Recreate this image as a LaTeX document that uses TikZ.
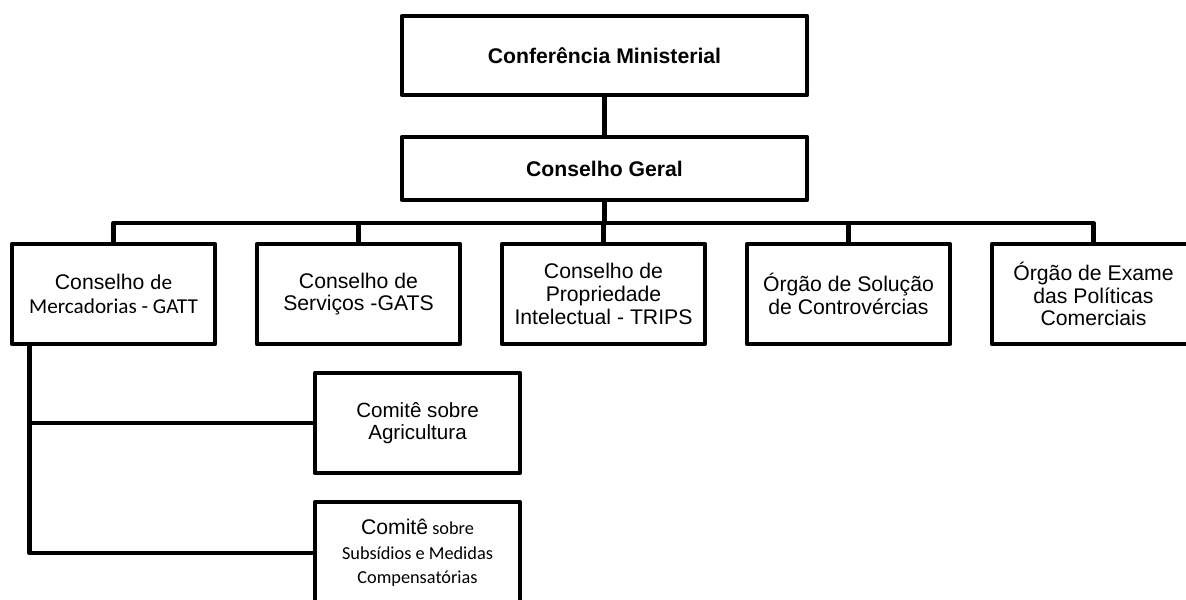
\documentclass[tikz,border=0pt]{standalone}
\usepackage{fontspec}
\setmainfont{Liberation Sans}
\newfontfamily\calfont{Carlito}
\usetikzlibrary{calc}
\begin{document}
\begin{tikzpicture}[x=0.5pt,y=-0.5pt,
  line width=2.4pt, line join=round,
  box/.style={draw, line width=2.4pt, minimum width=101.5pt, minimum height=50pt,
    align=center, inner sep=0pt, font=\fontsize{10.6}{11.3}\selectfont},
  topbox/.style={box, minimum width=202.5pt, font=\fontsize{10.6}{12.5}\selectfont\bfseries}]
\useasboundingbox (0,0) rectangle (1186,599);
\node[topbox, minimum height=39.5pt] (cm) at (604.5,55.5) {Conferência Ministerial};
\node[topbox, minimum height=31.5pt] (cg) at (604.5,168.5) {Conselho Geral};
\node[box, font=\fontsize{10.6}{12}\selectfont] (b1) at (113.5,294) {Conselho {\calfont de}\\{\calfont Mercadorias - GATT}};
\node[box] (b2) at (358.5,294) {Conselho de\\Serviços -GATS};
\node[box] (b3) at (603.5,294) {Conselho de\\Propriedade\\Intelectual - TRIPS};
\node[box] (b4) at (848.5,294) {Órgão de Solução\\de Controvércias};
\node[box] (b5) at (1093.5,294) {Órgão de Exame\\das Políticas\\Comerciais};
\node[box, minimum width=102.5pt, font=\fontsize{10.3}{11}\selectfont] (ag) at (417.5,423) {Comitê sobre\\Agricultura};
\node[box, minimum width=102.5pt, minimum height=51pt, font=\fontsize{9.15}{12.2}\selectfont] (sb) at (417.5,553)
  {{\fontsize{10.6}{12.2}\selectfont Comitê}{\calfont\ sobre}\\{\calfont Subsídios e Medidas}\\{\calfont Compensatórias}};
\coordinate (bus) at (604.5,223);
\coordinate (dl) at ([xshift=10pt]b1.south west);
\draw (cm) -- (cg);
\draw (cg.south) -- (cg.south |- bus);
\draw (b1.north) -- (b1.north |- bus) -- (b5.north |- bus) -- (b5.north);
\draw (b2.north) -- (b2.north |- bus);
\draw (b3.north) -- (b3.north |- bus);
\draw (b4.north) -- (b4.north |- bus);
\draw (dl) |- (ag.west);
\draw (dl) |- (sb.west);
\end{tikzpicture}
\end{document}
